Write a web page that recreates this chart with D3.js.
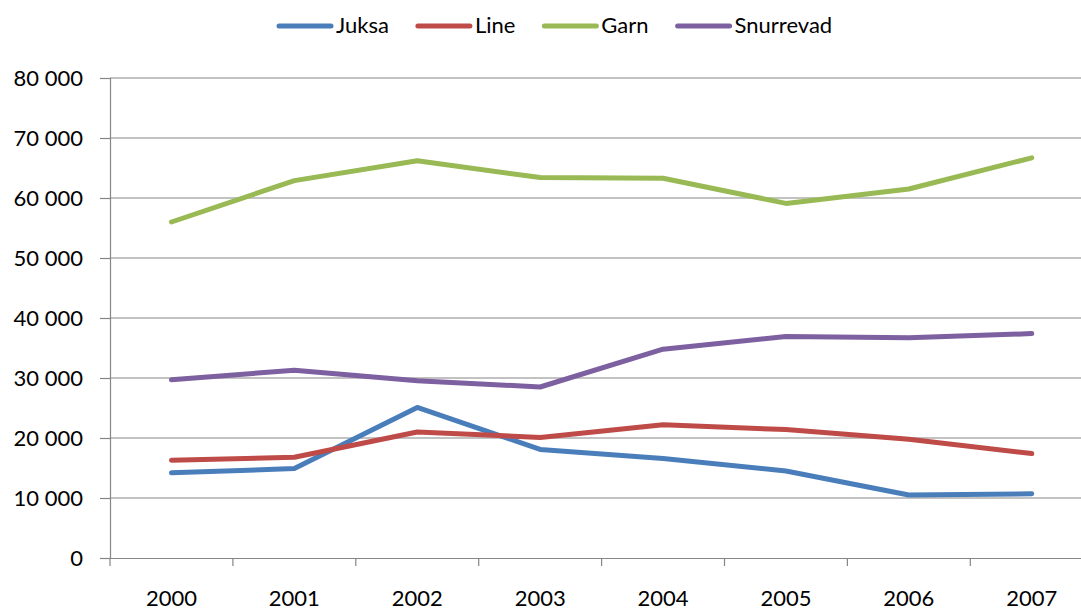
<!DOCTYPE html>
<html>
<head>
<meta charset="utf-8">
<script src="https://cdn.jsdelivr.net/npm/d3@7"></script>
<style>
  html, body { margin: 0; padding: 0; background: #fff; }
  svg { display: block; }
  text { font-family: Lato, "Noto Sans", sans-serif; fill: #000; }
</style>
</head>
<body>
<svg id="chart" width="1081" height="610"></svg>
<script>
const years = ["2000", "2001", "2002", "2003", "2004", "2005", "2006", "2007"];
const seriesNames = ["Juksa", "Line", "Garn", "Snurrevad"];
const juksa = [14200, 14900, 25100, 18100, 16600, 14500, 10500, 10700];
const line = [16300, 16800, 21000, 20100, 22200, 21400, 19800, 17400];
const garn = [56000, 62900, 66200, 63400, 63300, 59100, 61500, 66700];
const snurrevad = [29700, 31300, 29550, 28500, 34800, 36900, 36700, 37400];
const yTicks = [0, 10000, 20000, 30000, 40000, 50000, 60000, 70000, 80000];
const colors = ["#4A7EBB", "#BE4B48", "#98B954", "#7D60A0"];

const seriesValues = [juksa, line, garn, snurrevad];

const svg = d3.select("#chart");
const mLeft = 110, mTop = 78, mBottom = 558, mRight = 110 + 8 * 122.9;

const x = d3.scaleBand().domain(years).range([mLeft, mRight]).padding(0);
const y = d3.scaleLinear().domain([0, 80000]).range([mBottom, mTop]);

const fmt = v => v === 0 ? "0" : d3.format(",")(v).replace(/,/g, " ");
const gridColor = "#868686";

// gridlines
svg.append("g")
  .selectAll("line")
  .data(yTicks.filter(t => t > 0))
  .join("line")
  .attr("x1", mLeft).attr("x2", mRight)
  .attr("y1", d => y(d)).attr("y2", d => y(d))
  .attr("stroke", gridColor).attr("stroke-width", 1.2);

// y axis
const yAxis = svg.append("g")
  .attr("transform", `translate(${mLeft},0)`)
  .call(d3.axisLeft(y).tickValues(yTicks).tickFormat(fmt).tickSize(10).tickPadding(17));
yAxis.select(".domain").attr("stroke", gridColor).attr("stroke-width", 1.2);
yAxis.selectAll(".tick line").attr("stroke", gridColor).attr("stroke-width", 1.2);
yAxis.selectAll(".tick text")
  .attr("font-size", 22).attr("font-family", "Lato, 'Noto Sans', sans-serif")
  .attr("fill", "#000").attr("dy", "0.36em");

// x axis
const xAxis = svg.append("g")
  .attr("transform", `translate(0,${mBottom})`)
  .call(d3.axisBottom(x).tickSize(0).tickPadding(0));
xAxis.select(".domain").attr("stroke", gridColor).attr("stroke-width", 1.2);
xAxis.selectAll(".tick text")
  .attr("font-size", 22).attr("font-family", "Lato, 'Noto Sans', sans-serif")
  .attr("fill", "#000").attr("dy", null).attr("y", 48);
// boundary ticks
const bounds = years.map(d => x(d)).concat([x(years[years.length - 1]) + x.bandwidth()]);
xAxis.selectAll(".btick").data(bounds).join("line")
  .attr("class", "btick")
  .attr("x1", d => d).attr("x2", d => d)
  .attr("y1", 0).attr("y2", 8)
  .attr("stroke", gridColor).attr("stroke-width", 1.2);

// lines
const lineGen = d3.line()
  .x((d, i) => x(years[i]) + x.bandwidth() / 2)
  .y(d => y(d));

svg.append("g")
  .selectAll("path")
  .data(seriesValues)
  .join("path")
  .attr("d", d => lineGen(d))
  .attr("fill", "none")
  .attr("stroke", (d, i) => colors[i])
  .attr("stroke-width", 5)
  .attr("stroke-linejoin", "round")
  .attr("stroke-linecap", "round");

// legend
const legend = svg.append("g");
let lx = 277;
seriesNames.forEach((name, i) => {
  legend.append("line")
    .attr("x1", lx + 2).attr("x2", lx + 54)
    .attr("y1", 26).attr("y2", 26)
    .attr("stroke", colors[i]).attr("stroke-width", 5)
    .attr("stroke-linecap", "round");
  const t = legend.append("text")
    .attr("x", lx + 59).attr("y", 33)
    .attr("font-size", 22)
    .text(name);
  const w = t.node().getComputedTextLength();
  lx = lx + 59 + w + 27;
});
</script>
</body>
</html>
